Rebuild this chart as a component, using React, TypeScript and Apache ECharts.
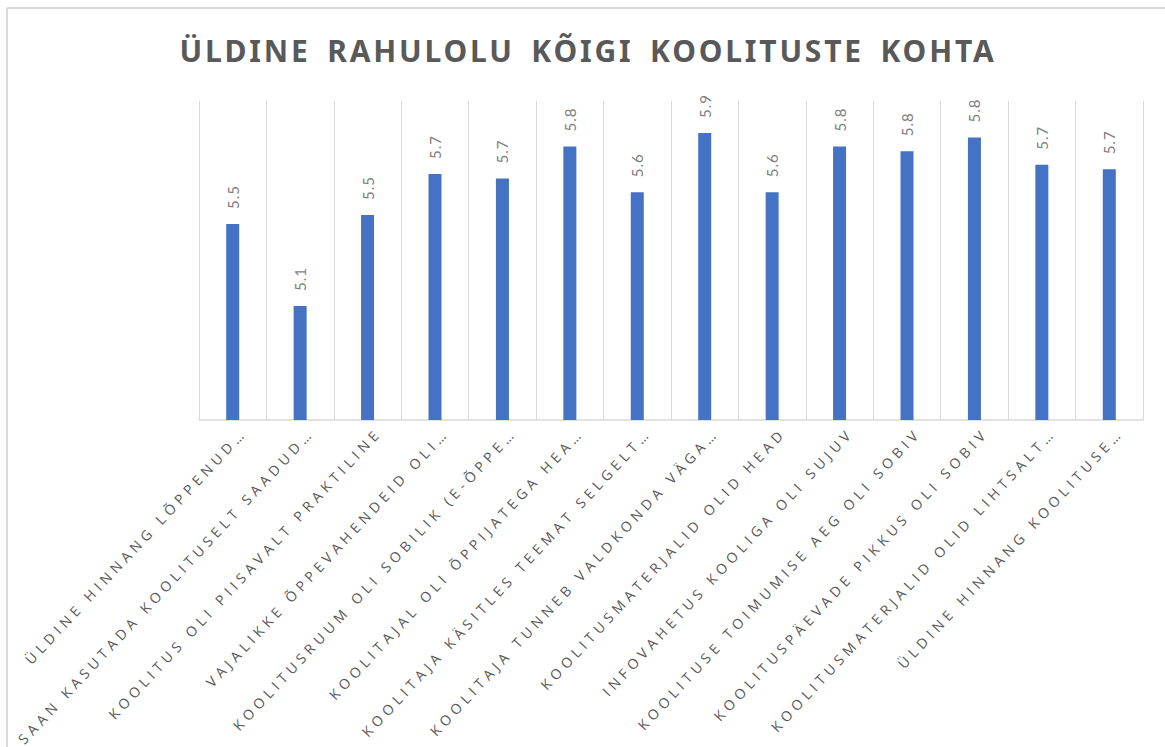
import React, { useEffect, useRef } from "react";
import * as echarts from "echarts";

const TITLE = "ÜLDINE RAHULOLU KÕIGI KOOLITUSTE KOHTA";

const categories: string[] = [
  "ÜLDINE HINNANG LÕPPENUD…",
  "SAAN KASUTADA KOOLITUSELT SAADUD…",
  "KOOLITUS OLI PIISAVALT PRAKTILINE",
  "VAJALIKKE ÕPPEVAHENDEID OLI…",
  "KOOLITUSRUUM OLI SOBILIK (E-ÕPPE…",
  "KOOLITAJAL OLI ÕPPIJATEGA HEA…",
  "KOOLITAJA KÄSITLES TEEMAT SELGELT…",
  "KOOLITAJA TUNNEB VALDKONDA VÄGA…",
  "KOOLITUSMATERJALID OLID HEAD",
  "INFOVAHETUS KOOLIGA OLI SUJUV",
  "KOOLITUSE TOIMUMISE AEG OLI SOBIV",
  "KOOLITUSPÄEVADE PIKKUS OLI SOBIV",
  "KOOLITUSMATERJALID OLID LIHTSALT…",
  "ÜLDINE HINNANG KOOLITUSE…",
];

const values: number[] = [
  5.46, 5.1, 5.5, 5.68, 5.66, 5.8, 5.6, 5.86, 5.6, 5.8, 5.78, 5.84, 5.72, 5.7,
];

const Y_MIN = 4.6;
const Y_MAX = 6.0;

export default function App() {
  const ref = useRef<HTMLDivElement>(null);

  useEffect(() => {
    if (!ref.current) return;
    const chart = echarts.init(ref.current, undefined, { renderer: "svg" });
    const gridLeft = 199;
    const gridRight = 22;
    const gridTop = 101;
    const gridBottom = 327;
    const shift = 11;
    chart.setOption({
      animation: false,
      backgroundColor: "#ffffff",
      graphic: [
        {
          type: "line",
          shape: { x1: 7, y1: 8, x2: 1165, y2: 8 },
          style: { stroke: "#d9d9d9", lineWidth: 2 },
        },
        {
          type: "line",
          shape: { x1: 7, y1: 8, x2: 7, y2: 747 },
          style: { stroke: "#d9d9d9", lineWidth: 2 },
        },
        {
          type: "text",
          x: 588,
          y: 50,
          style: {
            text: TITLE,
            fill: "#595959",
            font: "bold 30px 'Noto Sans'",
            textAlign: "center",
            textVerticalAlign: "middle",
          },
        },
      ],
      grid: [
        { left: gridLeft, right: gridRight, top: gridTop, bottom: gridBottom },
        {
          left: gridLeft + shift,
          right: gridRight - shift,
          top: gridTop,
          bottom: gridBottom,
        },
      ],
      xAxis: [
        {
          type: "category",
          gridIndex: 0,
          data: categories,
          boundaryGap: true,
          axisLine: { show: true, lineStyle: { color: "#d9d9d9", width: 1.5 } },
          axisTick: { show: false, interval: 0 },
          axisLabel: { show: false, interval: 0 },
          splitLine: {
            show: true,
            interval: 0,
            lineStyle: { color: "#d9d9d9", width: 1 },
          },
        },
        {
          type: "category",
          gridIndex: 1,
          data: categories,
          boundaryGap: true,
          axisLine: { show: false },
          axisTick: { show: false },
          splitLine: { show: false },
          axisLabel: {
            show: true,
            interval: 0,
            rotate: 47,
            margin: 10,
            color: "#595959",
            fontFamily: "Open Sans",
            fontSize: 14,
          },
        },
      ],
      yAxis: [
        { type: "value", gridIndex: 0, min: Y_MIN, max: Y_MAX, show: false },
        { type: "value", gridIndex: 1, min: Y_MIN, max: Y_MAX, show: false },
      ],
      series: [
        {
          type: "bar",
          xAxisIndex: 0,
          yAxisIndex: 0,
          data: values,
          barWidth: 13,
          itemStyle: { color: "#4472C4" },
          label: {
            show: true,
            position: "top",
            rotate: 90,
            align: "left",
            verticalAlign: "middle",
            distance: 15,
            color: "#7f7f7f",
            fontFamily: "Lato",
            fontSize: 15,
            formatter: (p: any) => Number(p.value).toFixed(1),
          },
        },
      ],
    });
    return () => chart.dispose();
  }, []);

  return (
    <>
      <style>{`
        text[style*="Open Sans"] { letter-spacing: 4.6px; }
        text[style*="Noto Sans"] { letter-spacing: 2.8px; word-spacing: 6px; }
        text[style*="Lato"] { letter-spacing: 1px; }
      `}</style>
      <div
        ref={ref}
        style={{ position: "fixed", left: 0, top: 0, width: 1165, height: 747 }}
      />
    </>
  );
}
